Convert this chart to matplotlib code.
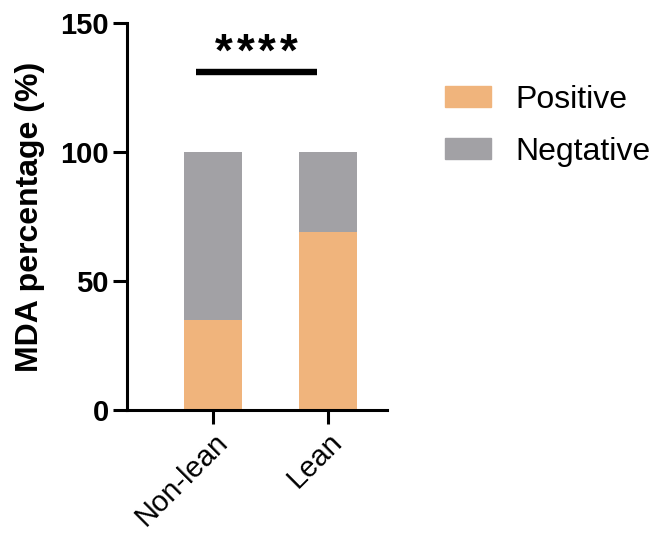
import matplotlib
matplotlib.use("Agg")
import matplotlib.pyplot as plt
from matplotlib.patches import Patch
from matplotlib.transforms import ScaledTranslation

groups = ["Non-lean", "Lean"]
positive = [35, 69]
negative = [65, 31]
sig_label = "****"
sig_y = 131

POS_COLOR = "#F0B47C"
NEG_COLOR = "#A2A1A5"

plt.rcParams["font.family"] = ["Liberation Sans", "DejaVu Sans"]

fig = plt.figure(figsize=(6.51, 5.37), dpi=100)
ax = fig.add_axes([0.195, 0.2365, 0.399, 0.72])

x = list(range(len(groups)))
ax.bar(x, positive, width=0.5, color=POS_COLOR, label="Positive")
ax.bar(x, negative, width=0.5, bottom=positive, color=NEG_COLOR, label="Negtative")

ax.set_xlim(-0.75, 1.51)
ax.set_ylim(0, 150)
ax.set_yticks([0, 50, 100, 150])
ax.set_xticks(x)
ax.set_xticklabels(groups, rotation=45, ha="right", rotation_mode="anchor", fontsize=21)
shift = ScaledTranslation(-6 / 72, -4 / 72, fig.dpi_scale_trans)
for lbl in ax.get_xticklabels():
    lbl.set_transform(lbl.get_transform() + shift)
for lbl in ax.get_yticklabels():
    lbl.set_fontsize(21)
    lbl.set_fontweight("bold")

for side in ("top", "right"):
    ax.spines[side].set_visible(False)
for side in ("left", "bottom"):
    ax.spines[side].set_linewidth(2.2)
ax.tick_params(width=2.2, length=10, pad=3)

ax.set_ylabel("MDA percentage (%)", fontsize=23, fontweight="bold", labelpad=11)

# significance bracket between the two groups, stars spread out a little
x0, x1 = -0.145, 0.9
ax.plot([x0, x1], [sig_y, sig_y], color="black", lw=4.6, solid_capstyle="butt", clip_on=False)
n = len(sig_label)
for i, ch in enumerate(sig_label):
    ax.annotate(ch, xy=((x0 + x1) / 2, sig_y + 2.5), xytext=((i - (n - 1) / 2) * 15.5, 0),
                textcoords="offset points", ha="center", va="baseline",
                fontsize=33, fontweight="bold")

handles = [Patch(color=POS_COLOR, label="Positive"), Patch(color=NEG_COLOR, label="Negtative")]
fig.legend(handles=handles, loc="upper left", bbox_to_anchor=(0.6836, 0.8415), frameon=False,
           fontsize=23, handlelength=1.44, handleheight=0.63, handletextpad=0.75,
           labelspacing=0.69, borderaxespad=0, borderpad=0)

fig.savefig("out.png", dpi=100)
